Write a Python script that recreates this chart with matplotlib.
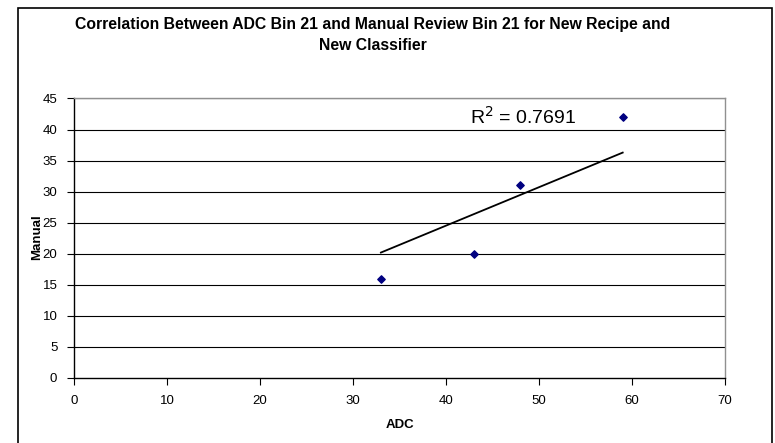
import matplotlib
import matplotlib.pyplot as plt
from matplotlib.patches import Rectangle

matplotlib.use('Agg')

plt.rcParams['font.family'] = ['Liberation Sans', 'DejaVu Sans']

# ADC vs manual review counts, bin 21
adc = [33, 43, 48, 59]
manual = [16, 20, 31, 42]

# linear trendline as reported with the chart
trend_slope = 0.619
trend_intercept = -0.23
r_squared = 0.7691

x_ticks = list(range(0, 71, 10))
y_ticks = list(range(0, 46, 5))

W, H = 775, 443
fig = plt.figure(figsize=(W / 100, H / 100), dpi=100)
ax = fig.add_axes([74 / W, 1 - 378 / H, 651 / W, 279.5 / H])

# outer chart border
fig.patches.append(Rectangle((17.5 / W, -0.02), 754.5 / W, 1 - 8 / H + 0.02,
                             transform=fig.transFigure, fill=False,
                             edgecolor='black', linewidth=1.2))

for y in y_ticks[1:]:
    ax.axhline(y, color='black', linewidth=0.8, zorder=1)

ax.scatter(adc, manual, marker='D', s=14, color='#000080', zorder=3)

x0, x1 = min(adc), max(adc)
ax.plot([x0, x1], [trend_slope * x0 + trend_intercept, trend_slope * x1 + trend_intercept],
        color='black', linewidth=1.3, zorder=2)

fig.text(523 / W, 1 - 117 / H, f'R$^2$ = {r_squared}', fontsize=14,
         ha='center', va='center')

ax.set_xlim(0, 70)
ax.set_ylim(0, 45)
ax.set_xticks(x_ticks)
ax.set_yticks(y_ticks)
ax.tick_params(direction='out', length=5, width=0.8, labelsize=9.5, pad=7)

ax.spines['left'].set_color('black')
ax.spines['bottom'].set_color('black')
ax.spines['top'].set_color('#909090')
ax.spines['right'].set_color('#909090')
for s in ax.spines.values():
    s.set_linewidth(1)

fig.text(373 / W, 1 - 25 / H, 'Correlation Between ADC Bin 21 and Manual Review Bin 21 for New Recipe and',
         ha='center', va='center', fontsize=11.3, fontweight='bold')
fig.text(373 / W, 1 - 46 / H, 'New Classifier',
         ha='center', va='center', fontsize=11.3, fontweight='bold')
fig.text(400 / W, 1 - 425 / H, 'ADC', ha='center', va='center', fontsize=9.5, fontweight='bold')
fig.text(37 / W, 1 - 237 / H, 'Manual', ha='center', va='center', fontsize=9.5,
         fontweight='bold', rotation=90)

fig.savefig('out.png', dpi=100)
